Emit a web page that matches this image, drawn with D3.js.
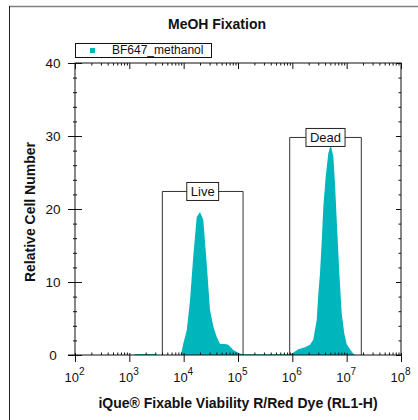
<!DOCTYPE html>
<html>
<head>
<meta charset="utf-8">
<script src="https://cdn.jsdelivr.net/npm/d3@7"></script>
<style>
  body { margin: 0; background: #fff; }
  text { font-family: "Liberation Sans", Arial, sans-serif; fill: #111; }
</style>
</head>
<body>
<div class="chart"></div>
<script>
// channel values (RL1-H) and relative cell number
var histChannel = [1200, 1300, 3000, 3300, 8900, 9800, 11400, 13100, 15000, 17400, 20000, 23000,
  26500, 30500, 35200, 40500, 46700, 57700, 66400, 82000, 101000, 117000, 140000, 900000,
  1040000, 1290000, 1710000, 2110000, 2430000, 2810000, 3010000, 3230000, 3480000, 3720000,
  4110000, 4590000, 5080000, 5680000, 6100000, 6560000, 7330000, 8110000, 9060000, 10000000,
  11500000, 13200000, 14300000];
var histCount = [0, 0.15, 0.15, 0, 0, 1.5, 3.4, 7.5, 13.5, 18.9, 19.6, 18.5,
  12.6, 6.2, 3.9, 2.5, 1.5, 1.5, 1.4, 0.7, 0.3, 0.12, 0.1, 0.1,
  0.3, 0.8, 1.05, 1.4, 2.1, 4.8, 8.4, 11.2, 15.7, 20.3,
  24.4, 27.6, 28.8, 27.2, 23.5, 18.5, 11.2, 5.7, 2.9, 1.5,
  0.8, 0.2, 0];

var gateNames = ["Live", "Dead"];
var gateLow = [4050, 895000];
var gateHigh = [124000, 18600000];
var gateLevel = [22.4, 29.8];

var xDecades = [1e2, 1e3, 1e4, 1e5, 1e6, 1e7, 1e8];
var yTicks = [0, 10, 20, 30, 40];
var yMinor = [2, 4, 6, 8, 12, 14, 16, 18, 22, 24, 26, 28, 32, 34, 36, 38];

var seriesName = "BF647_methanol";
var teal = "#00b6bd";

var width = 418, height = 420;

var svg = d3.select(".chart")
  .append("svg")
  .attr("width", width)
  .attr("height", height);

svg.append("rect").attr("width", width).attr("height", height).attr("fill", "#fff");

// outer frame (top and left edges visible)
svg.append("line").attr("x1", 9).attr("x2", width).attr("y1", 6.5).attr("y2", 6.5)
  .attr("stroke", "#808080").attr("stroke-width", 1.5);
svg.append("line").attr("x1", 9.5).attr("x2", 9.5).attr("y1", 6).attr("y2", height)
  .attr("stroke", "#222");

var x = d3.scaleLog().domain([1e2, 1e8]).range([75, 401]);
var y = d3.scaleLinear().domain([0, 40]).range([355, 63]);

var xMinor = [];
for (var e = 2; e < 8; e++) {
  for (var m = 2; m <= 9; m++) xMinor.push(m * Math.pow(10, e));
}

var data = histChannel.map(function (c, i) { return { c: c, n: histCount[i] }; });

// histogram
var area = d3.area()
  .x(function (d) { return x(d.c); })
  .y0(y(0))
  .y1(function (d) { return y(d.n); });

svg.append("path")
  .datum(data)
  .attr("d", area)
  .attr("fill", teal);

// gates
var gates = gateNames.map(function (g, i) {
  return { name: g, lo: gateLow[i], hi: gateHigh[i], lv: gateLevel[i] };
});

var gate = svg.append("g").attr("class", "gates")
  .selectAll("g").data(gates).enter().append("g");

gate.append("path")
  .attr("d", function (d) {
    return "M" + x(d.lo) + "," + y(0) + "V" + y(d.lv) + "H" + x(d.hi) + "V" + y(0);
  })
  .attr("fill", "none")
  .attr("stroke", "#333")
  .attr("stroke-width", 1);

gate.each(function (d) {
  var g = d3.select(this);
  var cx = (x(d.lo) + x(d.hi)) / 2, cy = y(d.lv);
  var t = g.append("text")
    .attr("x", cx).attr("y", cy + 4.5)
    .attr("text-anchor", "middle")
    .style("font-size", "13px")
    .text(d.name);
  var w = t.node().getComputedTextLength() + 8;
  g.insert("rect", "text")
    .attr("x", cx - w / 2).attr("y", cy - 9)
    .attr("width", w).attr("height", 18)
    .attr("fill", "#fff").attr("stroke", "#222");
});

function styleAxis(g) {
  g.select(".domain").remove();
  g.selectAll("line").attr("stroke", "#111");
}

// bottom axis
var gx = svg.append("g").attr("transform", "translate(0," + y(0) + ")");
gx.call(d3.axisBottom(x).tickValues(xDecades).tickSize(7).tickFormat(""));
gx.selectAll(".tick line").attr("y1", -2);
styleAxis(gx);
var gxm = svg.append("g").attr("transform", "translate(0," + y(0) + ")");
gxm.call(d3.axisBottom(x).tickValues(xMinor).tickSize(-2.5).tickFormat(""));
styleAxis(gxm);

gx.selectAll(".tick").append("text")
  .attr("y", 27)
  .attr("x", -1)
  .attr("text-anchor", "middle")
  .style("font-size", "13px")
  .each(function (d) {
    var t = d3.select(this);
    t.append("tspan").text("10");
    t.append("tspan").attr("dy", -7).style("font-size", "10px").text(Math.round(Math.log10(d)));
  });

// top axis (mirror)
var gt = svg.append("g").attr("transform", "translate(0," + y(40) + ")");
gt.call(d3.axisTop(x).tickValues(xDecades).tickSize(-6).tickFormat(""));
styleAxis(gt);
var gtm = svg.append("g").attr("transform", "translate(0," + y(40) + ")");
gtm.call(d3.axisTop(x).tickValues(xMinor).tickSize(-2.5).tickFormat(""));
styleAxis(gtm);

// left axis
var gy = svg.append("g").attr("transform", "translate(" + x(1e2) + ",0)");
gy.call(d3.axisLeft(y).tickValues(yTicks).tickSize(7));
gy.selectAll(".tick line").attr("x1", 7);
gy.selectAll(".tick text")
  .attr("x", -22)
  .attr("text-anchor", "middle")
  .style("font-size", "13.5px")
  .attr("fill", "#111");
styleAxis(gy);
var gym = svg.append("g").attr("transform", "translate(" + x(1e2) + ",0)");
gym.call(d3.axisLeft(y).tickValues(yMinor).tickSize(2).tickFormat(""));
gym.selectAll(".tick line").attr("x1", 2);
styleAxis(gym);

// right axis (mirror)
var gr = svg.append("g").attr("transform", "translate(" + x(1e8) + ",0)");
gr.call(d3.axisRight(y).tickValues(yTicks).tickSize(-5).tickFormat(""));
styleAxis(gr);
var grm = svg.append("g").attr("transform", "translate(" + x(1e8) + ",0)");
grm.call(d3.axisRight(y).tickValues(yMinor).tickSize(-2.5).tickFormat(""));
styleAxis(grm);

// plot frame
svg.append("rect")
  .attr("x", x(1e2)).attr("y", y(40))
  .attr("width", x(1e8) - x(1e2)).attr("height", y(0) - y(40))
  .attr("fill", "none").attr("stroke", "#111").attr("stroke-width", 1);
svg.append("line")
  .attr("x1", x(1e2) - 7).attr("x2", x(1e2)).attr("y1", y(0)).attr("y2", y(0))
  .attr("stroke", "#111");

// title, axis labels
svg.append("text")
  .attr("x", 217).attr("y", 29)
  .attr("text-anchor", "middle")
  .style("font-size", "14px").style("font-weight", "bold")
  .text("MeOH Fixation");

svg.append("text")
  .attr("x", (x(1e2) + x(1e8)) / 2).attr("y", 408)
  .attr("text-anchor", "middle")
  .style("font-size", "14px").style("font-weight", "bold")
  .text("iQue® Fixable Viability R/Red Dye (RL1-H)");

svg.append("text")
  .attr("transform", "translate(35," + 212 + ") rotate(-90)")
  .attr("text-anchor", "middle")
  .style("font-size", "14px").style("font-weight", "bold")
  .text("Relative Cell Number");

// legend
var lg = svg.append("g").attr("class", "legend");
lg.append("rect")
  .attr("x", 75.5).attr("y", 43.5).attr("width", 136).attr("height", 14)
  .attr("fill", "#fff").attr("stroke", "#111");
lg.append("rect")
  .attr("x", 90).attr("y", 48).attr("width", 5).attr("height", 5)
  .attr("fill", teal);
lg.append("text")
  .attr("x", 112).attr("y", 53.5)
  .style("font-size", "12px")
  .text(seriesName);
</script>
</body>
</html>
